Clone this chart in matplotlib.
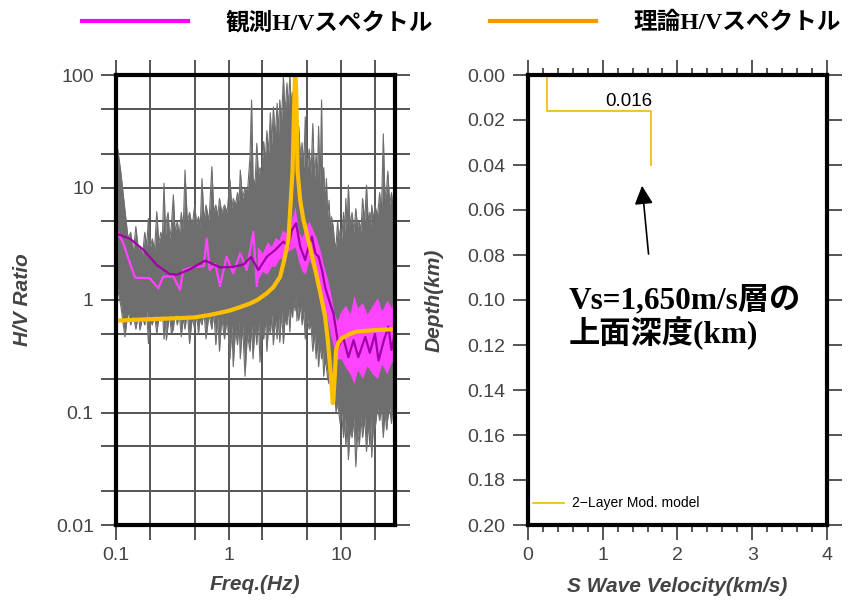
import matplotlib
matplotlib.use('Agg')
import numpy as np
import matplotlib.pyplot as plt
from matplotlib.lines import Line2D
from matplotlib.ticker import FixedLocator, NullFormatter, FuncFormatter

plt.rcParams['font.family'] = ['Liberation Sans', 'Noto Sans CJK JP', 'DejaVu Sans']

# ---- observed H/V: envelope of all individual spectra (gray) ----
gray_f = [0.100, 0.110, 0.120, 0.128, 0.135, 0.142, 0.150, 0.158, 0.163, 0.172,
          0.180, 0.187, 0.194, 0.203, 0.210, 0.220, 0.230, 0.240, 0.250, 0.258,
          0.267, 0.275, 0.280, 0.290, 0.300, 0.310, 0.323, 0.335, 0.350, 0.365,
          0.380, 0.395, 0.410, 0.430, 0.450, 0.475, 0.500, 0.520, 0.540, 0.560,
          0.580, 0.605, 0.630, 0.670, 0.710, 0.740, 0.770, 0.800, 0.830, 0.870,
          0.92, 0.97, 1.03, 1.07, 1.10, 1.15, 1.20, 1.24, 1.27, 1.33,
          1.40, 1.47, 1.55, 1.60, 1.65, 1.72, 1.78, 1.84, 1.90, 1.97,
          2.05, 2.12, 2.19, 2.27, 2.35, 2.42, 2.50, 2.60, 2.70, 2.78,
          2.85, 2.95, 3.07, 3.18, 3.30, 3.40, 3.50, 3.60, 3.70, 3.80,
          3.90, 3.98, 4.05, 4.12, 4.20, 4.35, 4.50, 4.65, 4.80, 5.00,
          5.20, 5.40, 5.60, 5.80, 6.00, 6.15, 6.30, 6.50, 6.70, 6.85,
          7.00, 7.20, 7.40, 7.60, 7.80, 8.00, 8.20, 8.50, 8.75, 9.00,
          9.30, 9.55, 9.80, 10.1, 10.5, 10.8, 11.0, 11.3, 11.6, 12.0,
          12.5, 13.0, 13.5, 14.0, 14.5, 15.0, 15.5, 16.2, 16.8, 17.4,
          18.0, 18.4, 18.7, 19.4, 20.0, 21.0, 22.0, 22.8, 23.7, 24.5,
          25.4, 26.0, 27.0, 28.0, 29.0, 30.0]
gray_up = [28, 14, 6.3, 3.5, 4.0, 2.6, 4.5, 2.8, 3.0, 2.5,
           4.0, 3.0, 5.3, 3.0, 3.5, 2.8, 6.1, 3.2, 4.0, 3.5,
           10.9, 3.8, 5.0, 6.0, 3.5, 4.5, 8.6, 4.0, 5.0, 3.8,
           6.0, 4.2, 14.3, 5.0, 6.0, 4.5, 7.0, 4.8, 5.5, 4.5,
           12.0, 5.0, 7.0, 5.0, 15.3, 6.0, 7.0, 5.5, 8.0, 6.0,
           7.0, 6.0, 11.7, 6.5, 8.0, 7.0, 9.0, 7.5, 14.3, 8.0,
           10.0, 9.0, 18.8, 60, 12.0, 11.0, 24.7, 13.0, 15.0, 14.0,
           25.6, 17, 32, 20, 46, 24, 52, 28, 56, 30,
           60, 38, 97, 45, 85, 50, 100, 55, 70, 35,
           45, 25, 30, 20, 35, 18, 25, 15, 42.5, 14,
           22, 13, 37, 12, 20, 11, 35, 10, 60, 9,
           15, 7, 12, 5.5, 7.7, 4.5, 5.5, 4.5, 3.2, 3.0,
           5.0, 3.5, 4.2, 3.5, 6.0, 4.0, 8.0, 4.5, 10.5, 4.5,
           6.0, 4.0, 6.5, 4.5, 5.0, 4.0, 8.0, 5.0, 10.5, 5.0,
           6.0, 4.5, 7.0, 5.0, 7.0, 5.5, 9.0, 6.0, 30, 8.0,
           10, 14, 7, 9, 6.5, 8]
gray_lo = [1.5, 0.9, 0.47, 0.8, 0.6, 0.75, 0.55, 0.75, 0.54, 0.7,
           0.6, 0.8, 0.41, 0.65, 0.6, 0.75, 0.5, 0.7, 0.65, 0.8,
           0.45, 0.7, 0.44, 0.6, 0.75, 0.5, 0.55, 0.8, 0.6, 0.75,
           0.47, 0.7, 0.55, 0.8, 0.41, 0.7, 0.55, 0.75, 0.5, 0.7,
           0.6, 0.8, 0.45, 0.75, 0.55, 0.8, 0.4, 0.7, 0.35, 0.7,
           0.45, 0.7, 0.3, 0.6, 0.255, 0.55, 0.4, 0.65, 0.3, 0.6,
           0.21, 0.5, 0.35, 0.6, 0.3, 0.6, 0.4, 0.7, 0.28, 0.55,
           0.45, 0.7, 0.35, 0.6, 0.5, 0.75, 0.4, 0.7, 0.45, 0.7,
           0.42, 0.8, 0.41, 0.7, 0.6, 0.9, 0.52, 0.9, 0.7, 1.0,
           0.8, 1.1, 0.65, 0.9, 0.66, 0.9, 0.6, 0.8, 0.45, 0.7,
           0.55, 0.6, 0.35, 0.5, 0.3, 0.45, 0.255, 0.4, 0.3, 0.35,
           0.21, 0.3, 0.25, 0.2, 0.18, 0.22, 0.15, 0.12, 0.16, 0.1,
           0.12, 0.1, 0.08, 0.1, 0.06, 0.09, 0.05, 0.08, 0.038, 0.07,
           0.06, 0.09, 0.033, 0.07, 0.05, 0.09, 0.06, 0.09, 0.045, 0.08,
           0.05, 0.09, 0.04, 0.08, 0.07, 0.11, 0.085, 0.11, 0.06, 0.1,
           0.07, 0.09, 0.11, 0.08, 0.12, 0.12]

# ---- observed H/V: average (pink, thin at low freq, band above) ----
pink_f = [0.1, 0.116, 0.133, 0.148, 0.2, 0.238, 0.263, 0.323, 0.37, 0.396, 0.487, 0.6, 0.64,
          0.68, 0.76, 0.84, 0.96, 1.10, 1.27, 1.45, 1.66, 1.78, 1.9]
pink_v = [4.3, 3.2, 2.12, 1.58, 1.56, 1.27, 1.62, 1.62, 1.23, 1.85, 1.97, 2.0, 3.53,
          1.85, 2.1, 1.33, 2.43, 1.73, 2.6, 1.85, 4.05, 1.33, 2.2]
band_f = [1.8, 2.0, 2.2, 2.4, 2.6, 2.8, 3.0, 3.3, 3.6, 3.9, 4.2, 4.5, 4.8, 5.2, 5.6, 6.0, 6.5,
          7.0, 7.5, 8.0, 8.6, 9.2, 10, 11, 12, 13, 14, 15.5, 17, 19, 21, 23, 25.5, 28, 30]
band_up = [3.0, 2.6, 3.3, 3.0, 3.6, 3.4, 4.2, 3.9, 5.0, 6.8, 4.0, 3.6, 4.5, 5.0, 4.2, 3.6, 2.8,
           2.0, 1.6, 1.2, 0.8, 0.65, 0.8, 0.9, 0.75, 1.1, 0.85, 0.95, 0.75, 0.9, 1.05, 0.8, 1.0, 0.85, 1.1]
band_lo = [1.5, 1.8, 1.7, 2.0, 2.0, 2.3, 2.4, 2.7, 2.8, 3.0, 2.2, 1.8, 1.7, 2.3, 1.9, 1.5, 1.3,
           0.9, 0.7, 0.5, 0.38, 0.3, 0.3, 0.25, 0.22, 0.18, 0.24, 0.2, 0.26, 0.22, 0.2, 0.27, 0.22, 0.28, 0.3]

# ---- observed H/V: smoothed (purple) ----
pur_f = [0.1, 0.133, 0.175, 0.23, 0.30, 0.35, 0.455, 0.62, 0.84, 1.1, 1.36, 1.58, 1.84, 2.19,
         2.59, 3.07, 3.4, 3.65, 3.98, 4.33, 4.79, 5.2, 5.5, 5.9, 6.3, 6.8, 7.2, 7.8, 8.55, 9.5,
         10.4, 11.6, 12.9, 14.2, 16.4, 18, 20, 21.5, 24, 26.3, 28, 30]
pur_v = [3.9, 3.5, 2.8, 2.05, 1.70, 1.68, 1.88, 2.24, 1.95, 1.97, 2.07, 2.41, 1.85, 2.43,
         2.78, 3.3, 3.0, 4.19, 4.8, 2.98, 2.27, 3.1, 3.66, 2.6, 2.43, 1.8, 1.31, 1.0, 0.76, 0.385,
         0.47, 0.31, 0.44, 0.31, 0.47, 0.34, 0.5, 0.29, 0.44, 0.58, 0.36, 0.5]

# ---- theoretical H/V ----
theo_f = [0.1, 0.2, 0.3, 0.5, 0.7, 1.0, 1.25, 1.55, 1.8, 2.19, 2.5, 2.87, 3.1, 3.4, 3.7, 3.82,
          3.92, 4.02, 4.1, 4.33, 4.6, 4.95, 5.5, 6.08, 6.6, 7.2, 7.6, 7.98, 8.2, 8.44, 8.67,
          9.03, 9.5, 10.1, 12, 13.8, 20, 30]
theo_v = [0.655, 0.675, 0.685, 0.70, 0.74, 0.80, 0.86, 0.93, 1.0, 1.15, 1.3, 1.61, 2.2, 3.4,
          14, 50, 130, 50, 14, 7.7, 5.3, 3.9, 2.5, 1.61, 1.1, 0.71, 0.45, 0.255, 0.18, 0.121,
          0.17, 0.36, 0.42, 0.457, 0.5, 0.525, 0.54, 0.55]

# ---- velocity structure ----
layer_vs = [0.26, 0.26, 1.65, 1.65]
layer_depth = [0.0, 0.016, 0.016, 0.04]
layer_top = 0.016

freq_major = [0.1, 1, 10]
freq_minor = [0.2, 0.5, 2, 5, 20]
hv_major = [0.01, 0.1, 1, 10, 100]
hv_minor = [0.02, 0.05, 0.2, 0.5, 2, 5, 20, 50]

GRAY = '#6e6e6e'
TICK_C = '#555555'
LABEL_C = '#444444'
LABEL_FONT = dict(fontsize=15, fontweight='bold', fontstyle='italic', color=LABEL_C)

fig = plt.figure(figsize=(8.5, 6), dpi=100)
ax1 = fig.add_axes([0.1365, 0.125, 0.328, 0.75])
ax2 = fig.add_axes([0.621, 0.125, 0.352, 0.75])

# left panel
ax1.fill_between(gray_f, gray_lo, gray_up, color=GRAY, lw=0, zorder=2)
ax1.plot(gray_f, gray_up, color=GRAY, lw=0.8, zorder=2)
ax1.plot(gray_f, gray_lo, color=GRAY, lw=0.8, zorder=2)
ax1.plot(pink_f, pink_v, color='#ff44ff', lw=1.6, zorder=3)
ax1.fill_between(band_f, band_lo, band_up, color='#ff44ff', lw=0, zorder=3)
ax1.plot(pur_f, pur_v, color='#a000a8', lw=1.6, zorder=4)
ax1.plot(theo_f, theo_v, color='#ffbf00', lw=3, zorder=5)

ax1.set_xscale('log')
ax1.set_yscale('log')
ax1.set_xlim(0.1, 30)
ax1.set_ylim(0.01, 100)
ax1.xaxis.set_major_locator(FixedLocator(freq_major))
ax1.xaxis.set_minor_locator(FixedLocator(freq_minor))
ax1.yaxis.set_major_locator(FixedLocator(hv_major))
ax1.yaxis.set_minor_locator(FixedLocator(hv_minor))
fmt = FuncFormatter(lambda v, p: f'{v:g}')
ax1.xaxis.set_major_formatter(fmt)
ax1.yaxis.set_major_formatter(fmt)
ax1.xaxis.set_minor_formatter(NullFormatter())
ax1.yaxis.set_minor_formatter(NullFormatter())
ax1.grid(which='both', color=TICK_C, lw=1.4)
ax1.set_axisbelow(True)
ax1.tick_params(which='both', direction='out', length=11, width=1.4, color=TICK_C,
                top=True, right=True, labelsize=14, labelcolor=LABEL_C, pad=5)
ax1.set_xlabel('Freq.(Hz)', **LABEL_FONT)
ax1.set_ylabel('H/V Ratio', **LABEL_FONT)
ax1.xaxis.set_label_coords(0.5, -0.110)
ax1.yaxis.set_label_coords(-0.300, 0.5)

# right panel
layer_line, = ax2.plot(layer_vs, layer_depth, color='#f5b800', lw=1.2,
                       label='2\u2212Layer Mod. model')
ax2.text(1.35, layer_top - 0.0005, f'{layer_top:.3f}', ha='center', va='bottom', fontsize=13.5)
ax2.annotate('', xy=(1.523, 0.048), xytext=(1.617, 0.0808),
             arrowprops=dict(arrowstyle='-|>', color='black', lw=1.2, mutation_scale=28))
ann_font = dict(fontsize=22.5, fontweight='bold', family=['Liberation Serif', 'Noto Sans CJK JP'])
ax2.text(0.54, 0.1036, 'Vs=1,650m/s層の', ha='left', va='baseline', **ann_font)
ax2.text(0.54, 0.1191, '上面深度(km)', ha='left', va='baseline', **ann_font)

ax2.set_xlim(0, 4)
ax2.set_ylim(0.2, 0)
ax2.xaxis.set_major_locator(FixedLocator([0, 1, 2, 3, 4]))
ax2.xaxis.set_minor_locator(FixedLocator(np.arange(0.2, 4, 0.2)))
ax2.yaxis.set_major_locator(FixedLocator(np.linspace(0, 0.2, 11)))
ax2.yaxis.set_major_formatter(FuncFormatter(lambda v, p: f'{v:.2f}'))
ax2.tick_params(which='major', direction='out', length=11, width=1.4, color=TICK_C,
                top=True, right=True, labelsize=14, labelcolor=LABEL_C, pad=5)
ax2.tick_params(which='minor', direction='out', length=5, width=1.4, color=TICK_C, top=True)
ax2.set_xlabel('S Wave Velocity(km/s)', **LABEL_FONT)
ax2.set_ylabel('Depth(km)', **LABEL_FONT)
ax2.xaxis.set_label_coords(0.5, -0.116)
ax2.yaxis.set_label_coords(-0.280, 0.5)
ax2.legend(handles=[layer_line], loc='lower left', bbox_to_anchor=(0.0, 0.02), frameon=False,
           fontsize=10, handlelength=2.2, handletextpad=0.6, borderaxespad=0)

for ax in (ax1, ax2):
    for s in ax.spines.values():
        s.set_linewidth(3)
        s.set_color('black')
        s.set_zorder(6)

# top legend
handles = [Line2D([], [], color='#ff00ff', lw=3), Line2D([], [], color='#f39800', lw=3)]
labels = ['観測H/Vスペクトル', '理論H/Vスペクトル']
fig.legend(handles, labels, loc='center left', bbox_to_anchor=(0.096, 0.962), ncol=2,
           frameon=False, handlelength=4.5, handletextpad=1.6, columnspacing=2.4,
           borderpad=0, borderaxespad=0,
           prop=dict(family=['Liberation Serif', 'Noto Sans CJK JP'], weight='bold', size=17))

fig.savefig('out.png', dpi=100)
